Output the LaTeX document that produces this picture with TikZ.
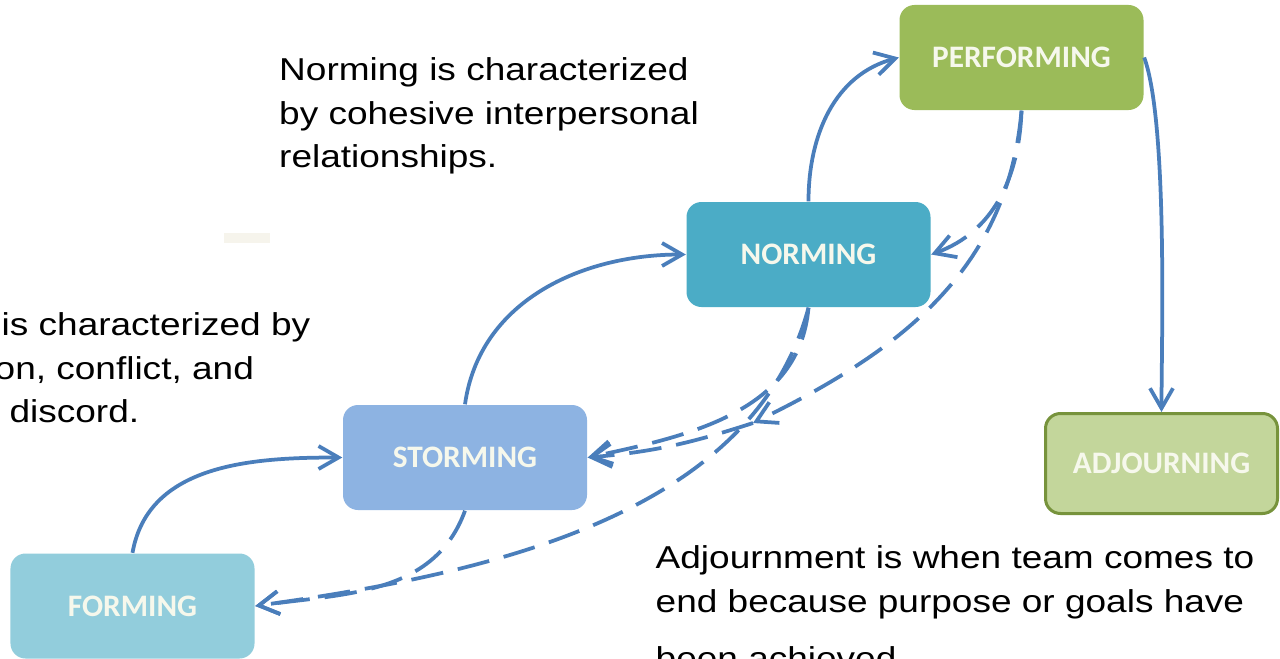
\documentclass[tikz,border=0pt]{standalone}
\usepackage{fontspec}
\setmainfont{Liberation Sans}
\newfontfamily\notefont[FakeStretch=1.17]{Liberation Sans}
\newfontfamily\stagefont{Carlito}
\usetikzlibrary{arrows.meta}

\definecolor{linkblue}{RGB}{74,126,187}
\definecolor{formfill}{RGB}{146,205,220}
\definecolor{stormfill}{RGB}{141,179,226}
\definecolor{normfill}{RGB}{75,172,198}
\definecolor{perffill}{RGB}{155,187,89}
\definecolor{adjfill}{RGB}{195,214,155}
\definecolor{adjline}{RGB}{119,147,60}
\definecolor{stagetext}{RGB}{246,248,236}
\definecolor{smudge}{RGB}{246,244,236}

\begin{document}
\begin{tikzpicture}[x=0.2mm, y=-0.2mm, thick]
    % Styles
    \tikzstyle{stage} = [rectangle, rounded corners=3mm, minimum width=48.8mm, minimum height=21mm, font=\stagefont\bfseries\fontsize{17.8}{20}\selectfont, text=stagetext]
    \tikzstyle{arrow} = [-{Straight Barb[length=4mm, width=4.6mm]}, draw=linkblue, line width=0.75mm]
    \tikzstyle{back_arrow} = [arrow, dash pattern=on 6.5mm off 3mm]
    \tikzstyle{note} = [anchor=north west, inner sep=0, align=left, font=\notefont\fontsize{18}{24.8}\selectfont]

    % Canvas
    \clip (0,0) rectangle (1280,659);
    \fill[white] (0,0) rectangle (1280,659);
    \fill[smudge] (224,233) rectangle (270,243);

    % Stages
    \node [stage, fill=formfill] (forming) at (132.5,606) {FORMING};
    \node [stage, fill=stormfill] (storming) at (465,457.5) {STORMING};
    \node [stage, fill=normfill] (norming) at (808.5,254.5) {NORMING};
    \node [stage, fill=perffill] (performing) at (1021.5,57.5) {PERFORMING};
    \node [stage, fill=adjfill, draw=adjline, line width=0.6mm, minimum width=46.4mm, minimum height=20mm] (adjourning) at (1161.5,463.5) {ADJOURNING};

    % Notes
    \node [note] (norm_note) at (278.5,57) {Norming is characterized\\by cohesive interpersonal\\relationships.};
    \node [note] (storm_note) at (1,312) {is characterized by\\\hspace*{-4pt}on, conflict, and\\\hspace*{4.5pt}discord.};
    \node [note] (adj_note) at (655,545) {Adjournment is when team comes to\\end because purpose or goals have\\[8pt]been achieved.};

    % Forward steps
    \draw [arrow] (forming.north) to [out=80, in=180] (storming.west);
    \draw [arrow] (storming.north) to [out=82, in=180] (norming.west);
    \draw [arrow] (norming.north) to [out=90, in=195] (performing.west);
    \draw [arrow] (performing.east) to [out=-70, in=90, looseness=0.5] (adjourning.north);

    % Falling back
    \coordinate (kink) at (753,423);
    \draw [back_arrow] (performing.south) to [out=-92, in=20] (norming.east);
    \draw [back_arrow] (performing.south) to [out=-95, in=26] (kink);
    \draw [back_arrow] (kink) to [out=198, in=5] (storming.east);
    \draw [back_arrow] (norming.south) to [out=-95, in=12] (storming.east);
    \draw [back_arrow] (norming.south) to [out=-105, in=8, looseness=0.9] (forming.east);
    \draw [back_arrow] (storming.south) to [out=-110, in=8] (forming.east);
\end{tikzpicture}
\end{document}
